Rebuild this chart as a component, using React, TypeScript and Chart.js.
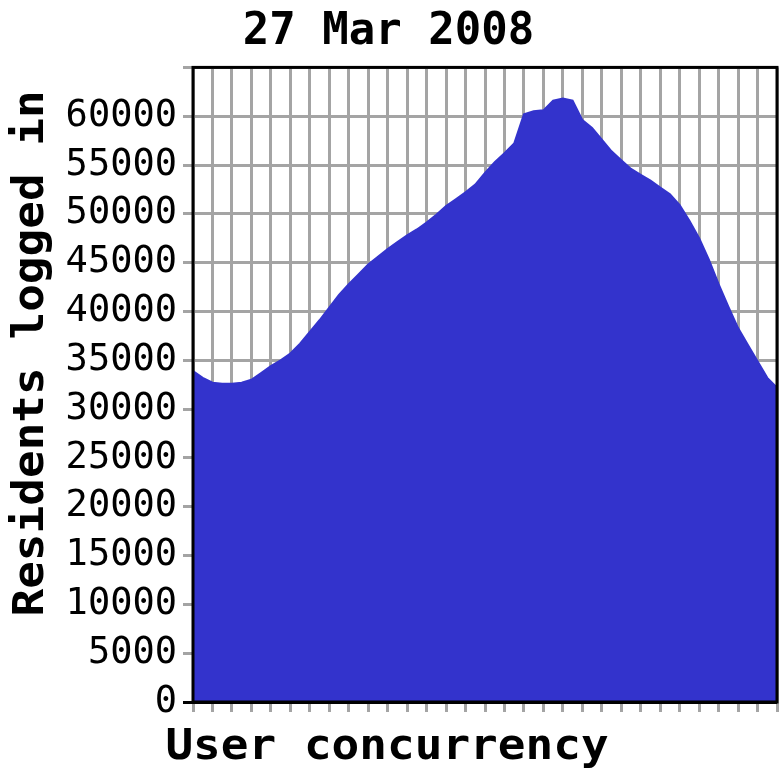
import React, { useEffect, useRef } from "react";
import { Chart, registerables } from "chart.js";

Chart.register(...registerables);

const TITLE = "27 Mar 2008";
const Y_TITLE = "Residents logged in";
const X_TITLE = "User concurrency";

// sample index (half grid interval each) across the day
const sampleIndex: number[] = Array.from({ length: 61 }, (_, i) => i);

const residents: number[] = [
  33900, 33200, 32700, 32600, 32600, 32700, 33000, 33700, 34400, 35000,
  35700, 36700, 37900, 39100, 40400, 41700, 42800, 43800, 44800, 45600,
  46400, 47100, 47800, 48400, 49100, 49900, 50800, 51500, 52200, 53000,
  54200, 55300, 56200, 57200, 60200, 60500, 60600, 61600, 61800, 61600,
  59600, 58800, 57600, 56400, 55500, 54600, 54000, 53400, 52700, 52000,
  50900, 49300, 47500, 45300, 42800, 40500, 38300, 36600, 34900, 33200,
  32200,
];

const yTicksMax = 65000;
const yStep = 5000;

const MONO = '"DejaVu Sans Mono", "Liberation Mono", monospace';

const framePlugin = {
  id: "frameAndTitles",
  afterDatasetsDraw(chart: any) {
    const { ctx, chartArea } = chart;
    ctx.save();
    ctx.strokeStyle = "#000";
    ctx.lineWidth = 3;
    ctx.strokeRect(
      chartArea.left,
      chartArea.top,
      chartArea.right - chartArea.left,
      chartArea.bottom - chartArea.top
    );
    ctx.restore();
  },
  afterDraw(chart: any) {
    const { ctx, chartArea } = chart;
    ctx.save();
    ctx.fillStyle = "#000";
    ctx.font = `bold 43px ${MONO}`;
    ctx.textAlign = "center";
    ctx.textBaseline = "middle";
    // x axis title
    ctx.save();
    ctx.translate(chartArea.left + 194, chartArea.bottom + 46);
    ctx.scale(1.07, 1);
    ctx.fillText(X_TITLE, 0, 0);
    ctx.restore();
    // y axis title
    ctx.save();
    ctx.translate(32, chartArea.top + 286);
    ctx.rotate(-Math.PI / 2);
    ctx.scale(1.07, 1);
    ctx.fillText(Y_TITLE, 0, 0);
    ctx.restore();
    ctx.restore();
  },
};

export default function App() {
  const ref = useRef<HTMLCanvasElement | null>(null);

  useEffect(() => {
    if (!ref.current) return;
    const chart = new Chart(ref.current, {
      type: "line",
      data: {
        datasets: [
          {
            label: Y_TITLE,
            data: sampleIndex.map((x, i) => ({ x, y: residents[i] })),
            fill: "origin",
            backgroundColor: "#3333cc",
            borderColor: "#3333cc",
            borderWidth: 2,
            pointRadius: 0,
            tension: 0,
          },
        ],
      },
      options: {
        animation: false,
        responsive: false,
        devicePixelRatio: 1,
        layout: { padding: { left: 0, right: 3, top: 0, bottom: 0 } },
        plugins: {
          legend: { display: false },
          tooltip: { enabled: false },
          title: {
            display: true,
            text: TITLE,
            color: "#000",
            font: { family: MONO, size: 44, weight: "bold", lineHeight: 1.1 },
            padding: { top: 8, bottom: 11 },
          },
        },
        scales: {
          x: {
            type: "linear",
            min: 0,
            max: 60,
            ticks: { stepSize: 2, display: false },
            grid: {
              color: "#a4a4a4",
              lineWidth: 3,
              tickLength: 10,
              drawTicks: true,
            },
            border: { display: false },
            afterFit: (scale: any) => {
              scale.height = 78;
            },
          },
          y: {
            min: 0,
            max: yTicksMax,
            ticks: {
              stepSize: yStep,
              color: "#000",
              padding: 6,
              font: { family: MONO, size: 37 },
              callback: (v: any) => (Number(v) >= yTicksMax ? "" : String(v)),
            },
            grid: {
              color: (c: any) => (c.tick && c.tick.value === 0 ? "#000" : "#a4a4a4"),
              lineWidth: 3,
              tickLength: 10,
            },
            border: { display: false },
            afterFit: (scale: any) => {
              scale.width = 193;
            },
          },
        },
      },
      plugins: [framePlugin],
    });
    return () => chart.destroy();
  }, []);

  return (
    <div style={{ position: "fixed", left: 0, top: 0, width: 780, height: 780, background: "#fff" }}>
      <canvas ref={ref} width={780} height={780} style={{ display: "block" }} />
    </div>
  );
}
